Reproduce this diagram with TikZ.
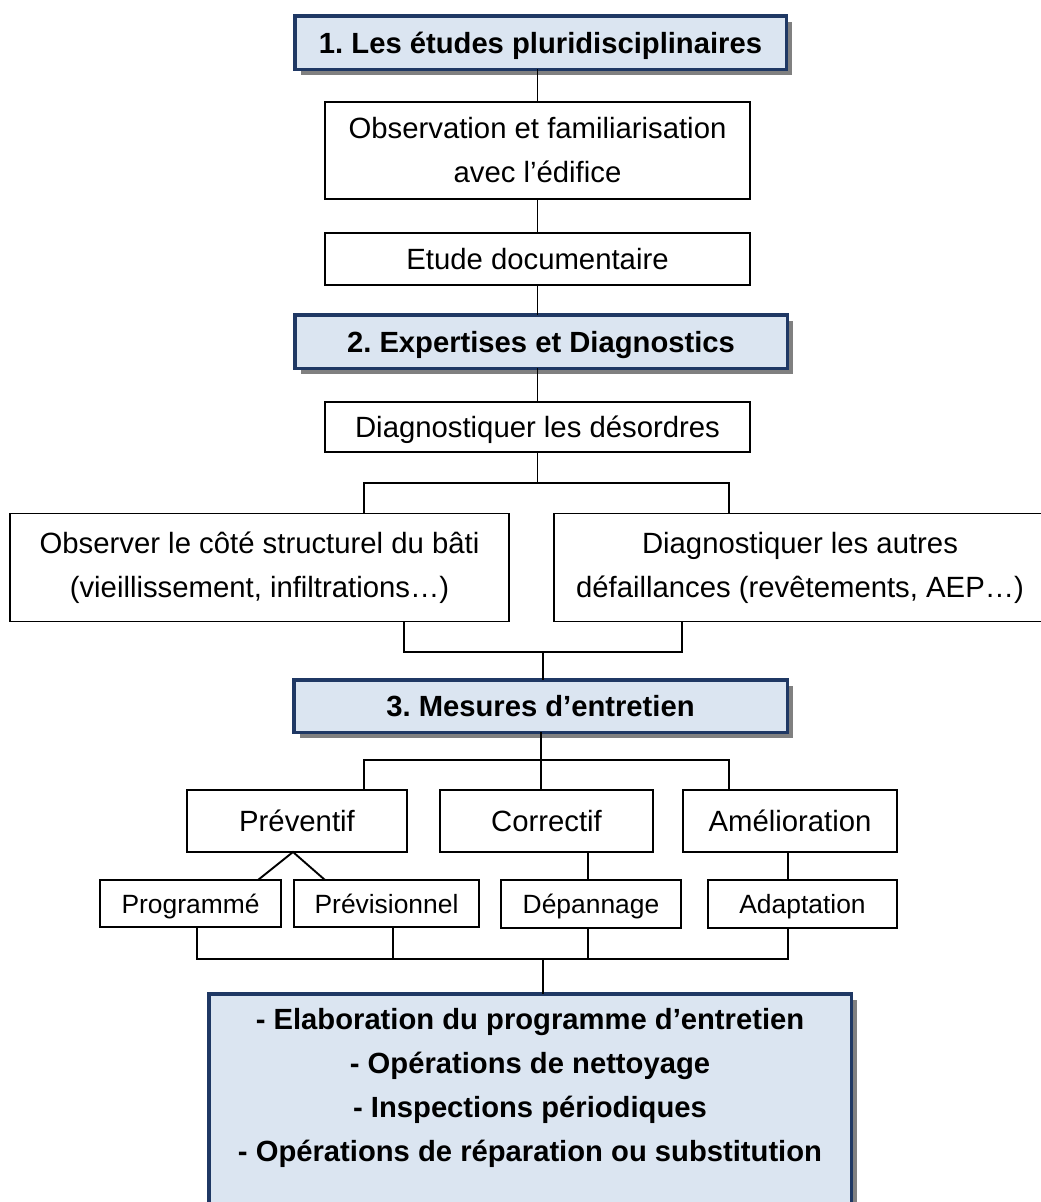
\documentclass[tikz,border=0pt]{standalone}
\usepackage{fontspec}
\setmainfont{Liberation Sans}
\frenchspacing
\usetikzlibrary{shadows}
\definecolor{headfill}{RGB}{219,229,241}
\definecolor{headline}{RGB}{31,56,100}
\definecolor{shadowgray}{RGB}{128,128,128}

\begin{document}
\begin{tikzpicture}[x=1pt,y=-1pt,
  every node/.style={inner sep=0pt, outer sep=0pt, align=center},
  plain/.style={draw=black, line width=1.8pt, fill=white,
    font=\fontsize{29.3}{44}\selectfont},
  oneline/.style={text height=21pt, text depth=0pt},
  small/.style={font=\fontsize{26.4}{40}\selectfont, text height=19pt, text depth=0pt},
  head/.style={draw=headline, line width=3.5pt, fill=headfill,
    font=\bfseries\fontsize{29.2}{44}\selectfont,
    drop shadow={shadow xshift=6pt, shadow yshift=-6pt, fill=shadowgray, opacity=1}},
  headtext/.style={font=\bfseries\fontsize{29.2}{44}\selectfont},
  link/.style={draw=black, line width=1.9pt}
]
\useasboundingbox (0,0) rectangle (1041,1202);
\clip (0,0) rectangle (1041,1202);

% phase 1
\node[head, oneline, minimum width=491.5, minimum height=53.5] (h1) at (540.5,42.5)
  {1. Les études pluridisciplinaires};
\node[plain, minimum width=425, minimum height=97] (obs) at (537.5,150.5)
  {Observation et familiarisation\\avec l’édifice};
\node[plain, oneline, minimum width=425, minimum height=52] (etude) at (537.5,259)
  {Etude documentaire};

% phase 2
\node[head, oneline, minimum width=492.5, minimum height=53.5] (h2) at (541,341.5)
  {2. Expertises et Diagnostics};
\node[plain, oneline, minimum width=425, minimum height=50] (diag) at (537.5,427)
  {Diagnostiquer les désordres};
\node[plain, minimum width=499, minimum height=108] (left) at (259.5,567.5)
  {Observer le côté structurel du bâti\\(vieillissement, infiltrations…)};
\node[plain, minimum width=492, minimum height=108] (right) at (800,567.5)
  {Diagnostiquer les autres\\défaillances (revêtements, AEP…)};

% phase 3
\node[head, oneline, minimum width=493.5, minimum height=52.5] (h3) at (540.5,706)
  {3. Mesures d’entretien};
\node[plain, oneline, minimum width=220, minimum height=62] (prev) at (297,821) {Préventif};
\node[plain, oneline, minimum width=213, minimum height=62] (corr) at (546.5,821) {Correctif};
\node[plain, oneline, minimum width=214, minimum height=62] (amel) at (790,821) {Amélioration};

\node[plain, small, minimum width=181, minimum height=47] (prog) at (190.5,903.5) {Programmé};
\node[plain, small, minimum width=185, minimum height=47] (previs) at (386.5,903.5) {Prévisionnel};
\node[plain, small, minimum width=180, minimum height=48] (dep) at (591,904) {Dépannage};
\node[plain, small, minimum width=189, minimum height=48] (adapt) at (802.5,904) {Adaptation};

% final programme
\node[head, anchor=north, minimum width=642.5, minimum height=240] (fin) at (530,993.75) {};
\node[headtext] (fintext) at (530,1088)
  {- Elaboration du programme d’entretien\\
   - Opérations de nettoyage\\
   - Inspections périodiques\\
   - Opérations de réparation ou substitution};

% junction points of the brackets
\coordinate (j1) at (537.5,483);
\coordinate (j2) at (543,652);
\coordinate (j3) at (541,760);
\coordinate (j4) at (543,959);

% connectors
\draw[link] (obs.north |- h1.south) -- (obs.north);
\draw[link] (obs.south) -- (etude.north);
\draw[link] (etude.south) -- (etude.south |- h2.north);
\draw[link] (diag.north |- h2.south) -- (diag.north);
\draw[link] (diag.south) -- (j1);
\draw[link] ([xshift=104.5pt]left.north) |- (j1) -| ([xshift=-71pt]right.north);
\draw[link] ([xshift=144.5pt]left.south) |- (j2) -| ([xshift=-118pt]right.south);
\draw[link] (j2) -- (j2 |- h3.north);
\draw[link] (j3 |- h3.south) -- (j3);
\draw[link] ([xshift=67pt]prev.north) |- (j3) -| ([xshift=-61pt]amel.north);
\draw[link] (j3) -- (j3 |- corr.north);
\draw[link] ([xshift=67.5pt]prog.north) -- ([xshift=-4pt]prev.south) -- ([xshift=-61.5pt]previs.north);
\draw[link] ([xshift=41.5pt]corr.south) -- ([xshift=41.5pt]corr.south |- dep.north);
\draw[link] ([xshift=-2pt]amel.south) -- ([xshift=-2pt]amel.south |- adapt.north);
\draw[link] ([xshift=6.5pt]prog.south) |- (j4) -| ([xshift=-14.5pt]adapt.south);
\draw[link] ([xshift=6.5pt]previs.south) -- ([xshift=6.5pt]previs.south |- j4);
\draw[link] ([xshift=-3pt]dep.south) -- ([xshift=-3pt]dep.south |- j4);
\draw[link] (j4) -- (j4 |- fin.north);
\end{tikzpicture}
\end{document}
